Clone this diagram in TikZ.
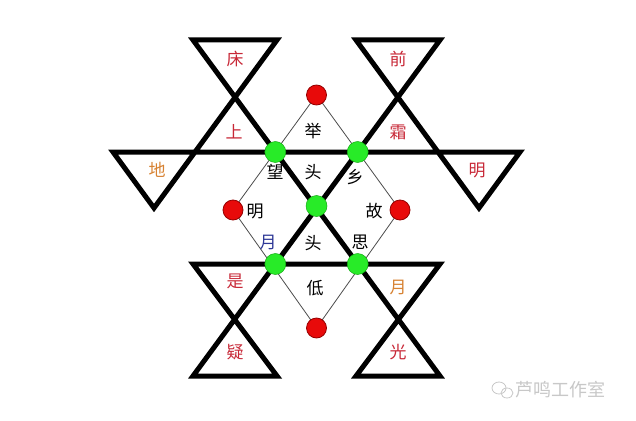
\documentclass[tikz,border=0pt]{standalone}
\usepackage{fontspec}
\newfontfamily\cjk{Noto Sans CJK SC}
\definecolor{poemred}{RGB}{200,40,55}
\definecolor{poemorange}{RGB}{215,130,50}
\definecolor{poemblue}{RGB}{45,55,150}
\definecolor{dotred}{RGB}{232,10,10}
\definecolor{dotredborder}{RGB}{150,0,0}
\definecolor{dotgreen}{RGB}{40,235,40}
\definecolor{dotgreenborder}{RGB}{20,170,20}
\definecolor{wmgrey}{RGB}{200,200,200}
\begin{document}
\begin{tikzpicture}[x=1pt,y=-1pt,
  thick line/.style={line width=5pt,line join=miter},
  thin line/.style={line width=0.8pt,draw=black!70},
  reddot/.style={circle,minimum size=20pt,inner sep=0pt,fill=dotred,draw=dotredborder,line width=0.8pt},
  greendot/.style={circle,minimum size=21pt,inner sep=0pt,fill=dotgreen,draw=dotgreenborder,line width=0.5pt},
  ch/.style={font=\cjk\fontsize{17}{17}\selectfont,inner sep=0pt},
  wm/.style={font=\cjk\fontsize{18}{18}\selectfont,text=wmgrey,inner sep=0pt}]
\useasboundingbox (0,0) rectangle (636,420);
\fill[white] (0,0) rectangle (636,420);
% coordinates
\coordinate (T1) at (193,40);
\coordinate (T2) at (277,40);
\coordinate (T3) at (356,40);
\coordinate (T4) at (440,40);
\coordinate (L) at (113,152);
\coordinate (R) at (520,152);
\coordinate (A1) at (154,208);
\coordinate (A2) at (479,208);
\coordinate (HL) at (193,264);
\coordinate (HR) at (440,264);
\coordinate (B1) at (193,376);
\coordinate (B2) at (277,376);
\coordinate (B3) at (356,376);
\coordinate (B4) at (440,376);
% thin diamond
\coordinate (rt) at (316.5,95);
\coordinate (rl) at (233,210);
\coordinate (rr) at (400,210);
\coordinate (rb) at (316.5,328);
\draw[thin line] (rt) -- (rl) -- (rb) -- (rr) -- cycle;
% thick lines as one closed path
\draw[thick line] (T2) -- (T1) -- (B4) -- (B3) -- (HR) -- (HL) -- (B2) -- (B1)
   -- (T4) -- (T3) -- (A2) -- (R) -- (L) -- (A1) -- cycle;
% dots on top
\node[reddot] (d1) at (rt) {};
\node[reddot] (d2) at (rl) {};
\node[reddot] (d3) at (rr) {};
\node[reddot] (d4) at (rb) {};
\node[greendot] (g1) at (275.3,152) {};
\node[greendot] (g2) at (357.7,152) {};
\node[greendot] (g3) at (316.5,206) {};
\node[greendot] (g4) at (275.3,264) {};
\node[greendot] (g5) at (357.7,264) {};
% texts
\node[ch,text=poemred] (c1) at (235,59) {床};
\node[ch,text=poemred] (c2) at (398,59) {前};
\node[ch,text=poemred] (c3) at (234,132) {上};
\node[ch,text=poemred] (c4) at (398,132) {霜};
\node[ch,text=poemorange] (c5) at (157,170) {地};
\node[ch,text=poemred] (c6) at (477,170) {明};
\node[ch] (c7) at (313,131) {举};
\node[ch] (c8) at (275,172) {望};
\node[ch] (c9) at (313,172) {头};
\node[ch] (c10) at (355,177) {乡};
\node[ch] (c11) at (255,211) {明};
\node[ch] (c12) at (374,211) {故};
\node[ch,text=poemblue] (c13) at (268,242) {月};
\node[ch] (c14) at (313,243) {头};
\node[ch] (c15) at (360,242) {思};
\node[ch,text=poemred] (c16) at (235,281) {是};
\node[ch] (c17) at (315,288) {低};
\node[ch,text=poemorange] (c18) at (398,287) {月};
\node[ch,text=poemred] (c19) at (235,352) {疑};
\node[ch,text=poemred] (c20) at (398,352) {光};
% watermark
\draw[wmgrey,line width=0.8pt] (499,388) ellipse (7pt and 6pt);
\draw[wmgrey,line width=0.8pt] (507,393) ellipse (6pt and 5pt);
\node[wm,anchor=west] (wm) at (515,390) {芦鸣工作室};
\end{tikzpicture}
\end{document}
